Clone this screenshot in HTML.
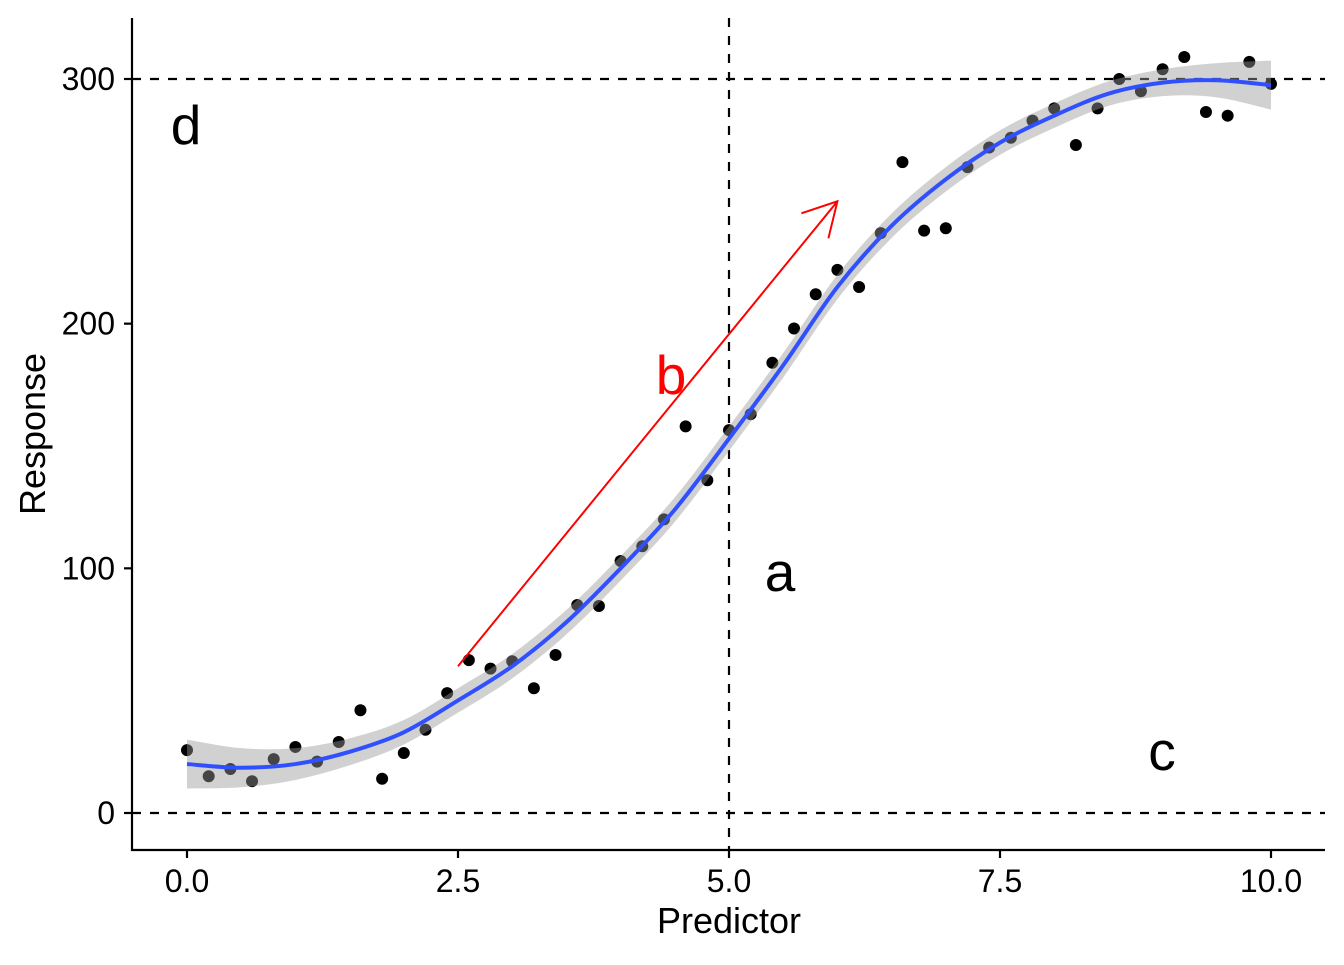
<!DOCTYPE html>
<html><head><meta charset="utf-8"><style>
body{margin:0;background:#fff}
text{font-family:"Liberation Sans",Arial,sans-serif}
</style></head><body>
<svg id="chart" width="1344" height="960" xmlns="http://www.w3.org/2000/svg"></svg>
<script>
const xs=[0,0.2,0.4,0.6,0.8,1,1.2,1.4,1.6,1.8,2,2.2,2.4,2.6,2.8,3,3.2,3.4,3.6,3.8,4,4.2,4.4,4.6,4.8,5,5.2,5.4,5.6,5.8,6,6.2,6.4,6.6,6.8,7,7.2,7.4,7.6,7.8,8,8.2,8.4,8.6,8.8,9,9.2,9.4,9.6,9.8,10];
const ys=[25.7,15,18,13,22,27,21,29,42,14,24.5,34,49,62.5,59,62,51,64.6,85,84.6,103,109,120,158,136,156.5,163,184,198,212,222,215,237,266,238,239,264,272,276,283,288,273,288,300,295,304,309,286.5,285,307,298];
const fitX=[0,0.5,1,1.5,2,2.5,3,3.5,4,4.5,5,5.5,6,6.5,7,7.5,8,8.5,9,9.5,10];
const fitY=[20,18.5,20,25,33,46,60,78,100,124,153,183,215,240,259,274,285,294,298.5,299.5,297.5];
const fitSE=[10,8,6.5,5.5,5,5,5,5,5,5,5,5,5,5,5,5,5,5,5.5,7,10];
const xTicks=[0,2.5,5,7.5,10], xTickLabels=["0.0","2.5","5.0","7.5","10.0"];
const yTicks=[0,100,200,300], yTickLabels=["0","100","200","300"];
const X=v=>187+v*108.4, Y=v=>813-v*2.4467;
const svg=document.getElementById('chart');const NS='http://www.w3.org/2000/svg';
function mk(t,a,txt){const e=document.createElementNS(NS,t);for(const k in a)e.setAttribute(k,a[k]);if(txt!=null)e.textContent=txt;svg.appendChild(e);return e;}
function spline(pts){let d='M'+pts[0][0]+' '+pts[0][1];
for(let i=0;i<pts.length-1;i++){const p0=pts[Math.max(0,i-1)],p1=pts[i],p2=pts[i+1],p3=pts[Math.min(pts.length-1,i+2)];
const c1=[p1[0]+(p2[0]-p0[0])/6,p1[1]+(p2[1]-p0[1])/6],c2=[p2[0]-(p3[0]-p1[0])/6,p2[1]-(p3[1]-p1[1])/6];
d+=` C${c1[0]} ${c1[1]} ${c2[0]} ${c2[1]} ${p2[0]} ${p2[1]}`;}return d;}
let e;
e=mk('line',{x1:132,x2:1325,y1:Y(300),y2:Y(300),stroke:'#000','stroke-width':2.2,'stroke-dasharray':'9,9'});

e=mk('line',{x1:132,x2:1325,y1:Y(0),y2:Y(0),stroke:'#000','stroke-width':2.2,'stroke-dasharray':'9,9'});

e=mk('line',{x1:X(5),x2:X(5),y1:18,y2:850,stroke:'#000','stroke-width':2.2,'stroke-dasharray':'9,9'});

xs.forEach((x,i)=>{const c=mk('circle',{cx:X(x),cy:Y(ys[i]),r:6,fill:'#000'});

});
const upP=fitX.map((x,i)=>[X(x),Y(fitY[i]+fitSE[i])]);
const loP=fitX.map((x,i)=>[X(x),Y(fitY[i]-fitSE[i])]).reverse();
const loD=spline(loP).replace(/^M/,'L');
e=mk('path',{d:spline(upP)+' '+loD+' Z',fill:'#999','fill-opacity':0.45});

e=mk('path',{d:spline(fitX.map((x,i)=>[X(x),Y(fitY[i])])),fill:'none',stroke:'#3050ff','stroke-width':4});

e=mk('path',{d:'M132 18 V850 H1325',fill:'none',stroke:'#000','stroke-width':2.2});

xTicks.forEach((t,i)=>{mk('line',{x1:X(t),x2:X(t),y1:850,y2:858,stroke:'#000','stroke-width':2.2});
const l=mk('text',{x:X(t),y:892,'font-size':32,'text-anchor':'middle',fill:'#000'},xTickLabels[i]);

});
yTicks.forEach((t,i)=>{mk('line',{x1:124,x2:132,y1:Y(t),y2:Y(t),stroke:'#000','stroke-width':2.2});
const l=mk('text',{x:115,y:Y(t)+11,'font-size':32,'text-anchor':'end',fill:'#000'},yTickLabels[i]);

});
e=mk('text',{x:729,y:933,'font-size':36,'text-anchor':'middle'},'Predictor');

e=mk('text',{x:0,y:0,'font-size':36,'text-anchor':'middle',transform:'translate(45,434) rotate(-90)'},'Response');

e=mk('path',{d:`M${X(2.5)} ${Y(60)} L${X(6)} ${Y(250)} M${X(6)-36} ${Y(250)+12} L${X(6)} ${Y(250)} L${X(6)-9} ${Y(250)+37}`,fill:'none',stroke:'#f00','stroke-width':2});

[['d',186,144,'#000'],['a',780,591,'#000'],['c',1162,770,'#000'],['b',671,394,'#f00']].forEach(a=>{
const t=mk('text',{x:a[1],y:a[2],'font-size':55,'text-anchor':'middle',fill:a[3]},a[0]);

});
</script>
</body></html>
